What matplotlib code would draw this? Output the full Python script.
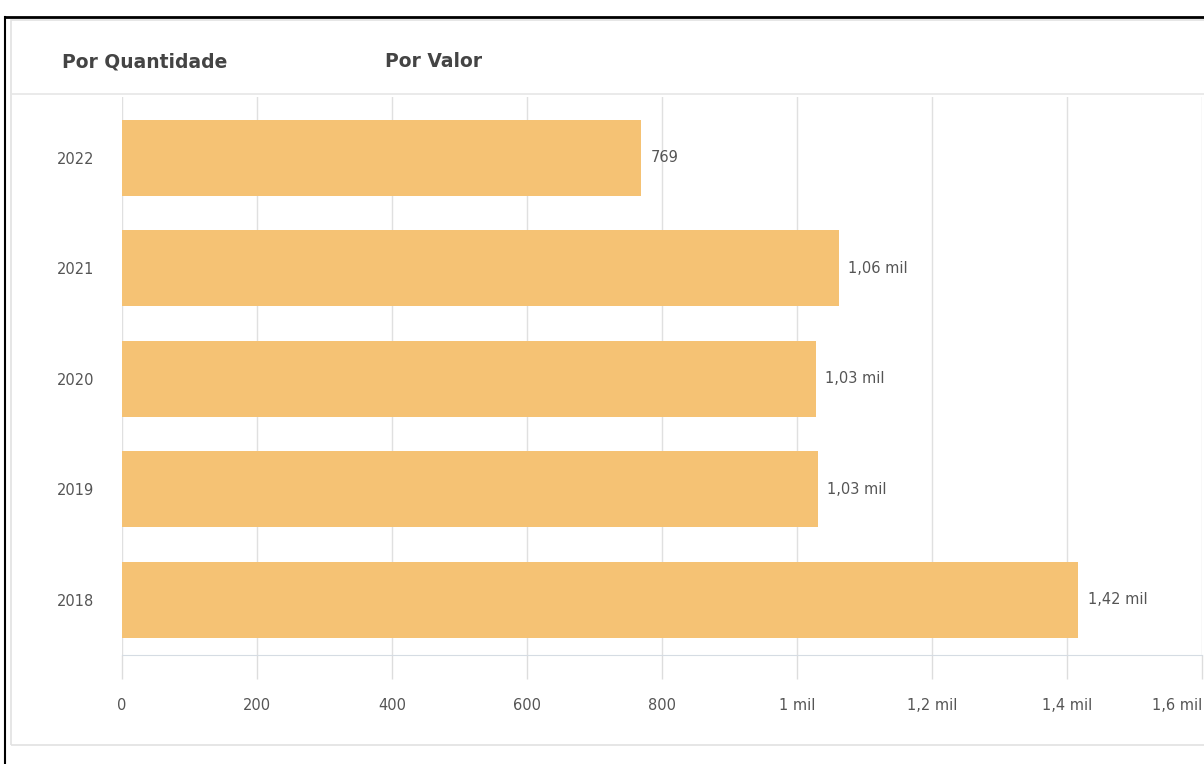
import matplotlib.pyplot as plt
from matplotlib.lines import Line2D
from matplotlib.patches import Rectangle

anos = ['2018', '2019', '2020', '2021', '2022']
valores = [1417, 1031, 1028, 1062, 769]
rotulos = ['1,42 mil', '1,03 mil', '1,03 mil', '1,06 mil', '769']
xticks = [0, 200, 400, 600, 800, 1000, 1200, 1400, 1600]
xticklabels = ['0', '200', '400', '600', '800', '1 mil', '1,2 mil', '1,4 mil', '1,6 mil']

W, H = 1204, 764
fig = plt.figure(figsize=(W / 100, H / 100), dpi=100)
fig.patch.set_facecolor('white')

# moldura do print + cartao
fig.add_artist(Line2D([5 / W, 1], [1 - 17 / H, 1 - 17 / H], color='black', lw=2))
fig.add_artist(Line2D([5 / W, 5 / W], [0, 1 - 17 / H], color='black', lw=1.5))
fig.add_artist(Rectangle((11 / W, 1 - 745 / H), 1.0, (745 - 20) / H,
                         fill=False, edgecolor='#e2e2e2', lw=1.2))
fig.add_artist(Line2D([11 / W, 1], [1 - 94 / H, 1 - 94 / H], color='#e6e6e6', lw=1.2))

fig.text(62 / W, 1 - 67 / H, 'Por Quantidade', fontsize=13.5, fontweight='bold',
         color='#444444', va='baseline', ha='left')
fig.text(385 / W, 1 - 67 / H, 'Por Valor', fontsize=13.5, fontweight='bold',
         color='#444444', va='baseline', ha='left')

ax = fig.add_axes([122 / W, 1 - 655 / H, (1202 - 122) / W, (655 - 97) / H])
ypos = list(range(len(anos)))
ax.barh(ypos, valores, height=0.69, color='#f5c274', zorder=2)
for y, v, r in zip(ypos, valores, rotulos):
    ax.text(v + 14, y, r, va='center', ha='left', fontsize=10.5, color='#555555')

ax.set_xlim(0, 1600)
ax.set_ylim(-0.5, 4.55)
ax.set_yticks(ypos)
ax.set_yticklabels(anos)
ax.set_xticks(xticks)
ax.set_xticklabels(xticklabels)
ax.get_xticklabels()[-1].set_ha('right')
ax.tick_params(axis='y', length=0, pad=20, labelsize=10.5, labelcolor='#555555')
ax.tick_params(axis='x', length=17, width=1, color='#dddddd', pad=14,
               labelsize=10.5, labelcolor='#555555')
ax.grid(axis='x', color='#e0e0e0', lw=1, zorder=0)
for s in ['top', 'right', 'left']:
    ax.spines[s].set_visible(False)
ax.spines['bottom'].set_color('#d5dce3')
ax.set_facecolor('none')

plt.savefig('out.png', dpi=100)
